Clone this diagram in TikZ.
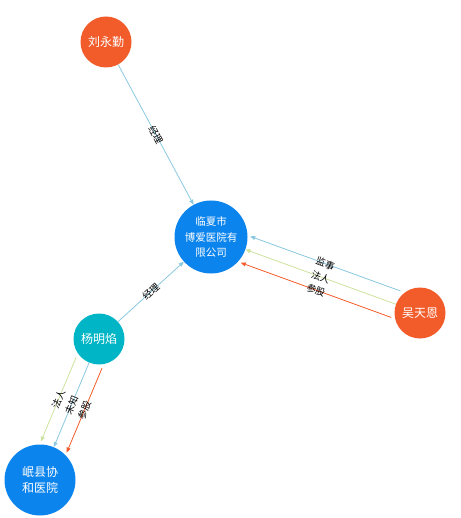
\documentclass[tikz,border=0pt]{standalone}
\usepackage{fontspec}
\newfontfamily\cjk{Noto Sans CJK SC}
\usetikzlibrary{arrows.meta}
\definecolor{entRed}{RGB}{242,92,42}
\definecolor{entBlue}{RGB}{12,132,238}
\definecolor{entTeal}{RGB}{0,181,197}
\definecolor{lnBlue}{RGB}{138,200,224}
\definecolor{lnGreen}{RGB}{204,226,158}
\definecolor{lnRed}{RGB}{242,92,42}

\begin{document}
\begin{tikzpicture}[
    x=1pt, y=-1pt,
    ent/.style={circle, inner sep=0pt, align=center, text=white, font=\cjk\fontsize{12}{16}\selectfont},
    person/.style={ent, fill=entRed, minimum size=51pt},
    corp/.style={ent, fill=entBlue, minimum size=73pt},
    rel/.style={-{Triangle[length=5pt,width=4pt]}, line width=0.8pt},
    lbl/.style={font=\cjk\fontsize{9.5}{9.5}\selectfont, sloped, inner sep=0pt, text=black}
]
\useasboundingbox (0,0) rectangle (460,518);

% --- Entidades ---
\node[person] (liu) at (106,42) {刘永勤};
\node[corp, font=\cjk\fontsize{10.5}{15.5}\selectfont] (linxia) at (211,237) {临夏市\\博爱医院有\\限公司};
\node[person] (wu) at (420,313) {吴天恩};
\node[person, fill=entTeal] (yang) at (99,339) {杨明焰};
\node[corp, minimum size=71pt] (minxian) at (40,480) {岷县协\\和医院};

% === RELACOES ===
\draw[rel, lnBlue] (liu) -- node[lbl] {经理} (linxia);
\draw[rel, lnBlue] (yang) -- node[lbl] {经理} (linxia);

% wu -> linxia (tres paralelas)
\draw[rel, lnBlue, transform canvas={shift={(4.7,-13.2)}}] (wu) -- node[lbl] {监事} (linxia);
\draw[rel, lnGreen] (wu) -- node[lbl] {法人} (linxia);
\draw[rel, lnRed, transform canvas={shift={(-4.7,13.2)}}] (wu) -- node[lbl] {参股} (linxia);

% yang -> minxian (tres paralelas)
\draw[rel, lnGreen, transform canvas={shift={(-12.9,-5.5)}}] (yang) -- node[lbl] {法人} (minxian);
\draw[rel, lnBlue] (yang) -- node[lbl] {未知} (minxian);
\draw[rel, lnRed, transform canvas={shift={(12.9,5.5)}}] (yang) -- node[lbl] {参股} (minxian);

\end{tikzpicture}
\end{document}
